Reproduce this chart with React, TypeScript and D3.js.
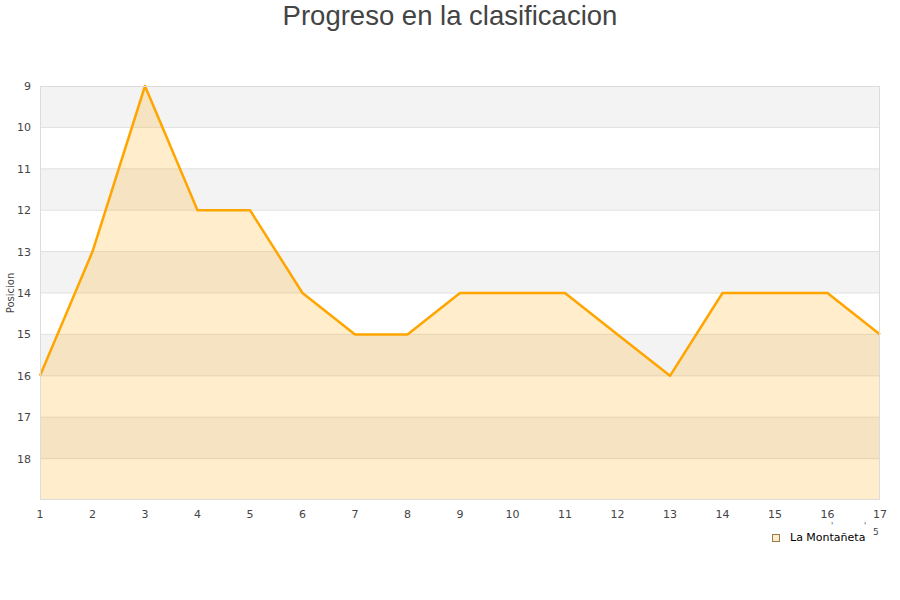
import React from "react";
import * as d3 from "d3";

const jornadas = [1, 2, 3, 4, 5, 6, 7, 8, 9, 10, 11, 12, 13, 14, 15, 16, 17];
const posiciones = [16, 13, 9, 12, 12, 14, 15, 15, 14, 14, 14, 15, 16, 14, 14, 14, 15];
const yTicks = [9, 10, 11, 12, 13, 14, 15, 16, 17, 18];
const serieNombre = "La Montañeta";
const titulo = "Progreso en la clasificacion";

const W = 900;
const H = 600;
const m = { left: 40, right: 20, top: 86, bottom: 100 };

export default function App() {
  const x = d3.scaleLinear().domain([1, 17]).range([m.left, W - m.right]);
  const y = d3.scaleLinear().domain([9, 19]).range([m.top, H - m.bottom]);
  const data = jornadas.map((j, i) => ({ j, p: posiciones[i] }));

  const line = d3.line<{ j: number; p: number }>().x(d => x(d.j)).y(d => y(d.p));
  const area = d3
    .area<{ j: number; p: number }>()
    .x(d => x(d.j))
    .y0(y(19))
    .y1(d => y(d.p));

  const bands = d3.range(9, 19);
  const axisFont = "DejaVu Sans, sans-serif";

  return (
    <svg width={W} height={H} style={{ position: "absolute", left: 0, top: 0 }}>
      <rect width={W} height={H} fill="#fff" />
      <text
        x={W / 2}
        y={25}
        textAnchor="middle"
        fontFamily="Liberation Sans, Arial, sans-serif"
        fontSize={27.5}
        fill="#444"
      >
        {titulo}
      </text>

      {bands.map(b => (
        <rect
          key={b}
          x={m.left}
          y={y(b)}
          width={x(17) - m.left}
          height={y(b + 1) - y(b)}
          fill={(b - 9) % 2 === 0 ? "#f3f3f3" : "#ffffff"}
        />
      ))}
      {d3.range(10, 19).map(t => (
        <line key={t} x1={m.left} x2={x(17)} y1={y(t)} y2={y(t)} stroke="#e0e0e0" />
      ))}

      <path d={area(data) ?? ""} fill="rgba(255,165,0,0.2)" />
      <path d={line(data) ?? ""} fill="none" stroke="#ffa500" strokeWidth={2.5} strokeLinejoin="round" />

      <rect
        x={m.left + 0.5}
        y={y(9) + 0.5}
        width={x(17) - m.left - 1}
        height={y(19) - y(9) - 1}
        fill="none"
        stroke="#dcdcdc"
      />

      {yTicks.map(t => (
        <text
          key={t}
          x={31}
          y={y(t) + 4}
          textAnchor="end"
          fontFamily={axisFont}
          fontSize={11}
          fill="#444"
        >
          {t}
        </text>
      ))}
      {jornadas.map(j => (
        <text
          key={j}
          x={x(j)}
          y={518}
          textAnchor="middle"
          fontFamily={axisFont}
          fontSize={11}
          fill="#444"
        >
          {j}
        </text>
      ))}
      <text
        transform={`translate(14,${293}) rotate(-90)`}
        textAnchor="middle"
        fontFamily={axisFont}
        fontSize={10}
        fill="#444"
      >
        Posicion
      </text>

      <text x={831} y={529} fontFamily={axisFont} fontSize={8} fill="#444">'</text>
      <text x={864} y={529} fontFamily={axisFont} fontSize={8} fill="#444">'</text>
      <text x={873} y={535} fontFamily={axisFont} fontSize={9} fill="#444">5</text>

      <rect x={772.5} y={534.5} width={7} height={7} fill="rgba(255,165,0,0.2)" stroke="#9a7a50" />
      <text x={790} y={541} fontFamily={axisFont} fontSize={11} fill="#000">
        {serieNombre}
      </text>
    </svg>
  );
}
